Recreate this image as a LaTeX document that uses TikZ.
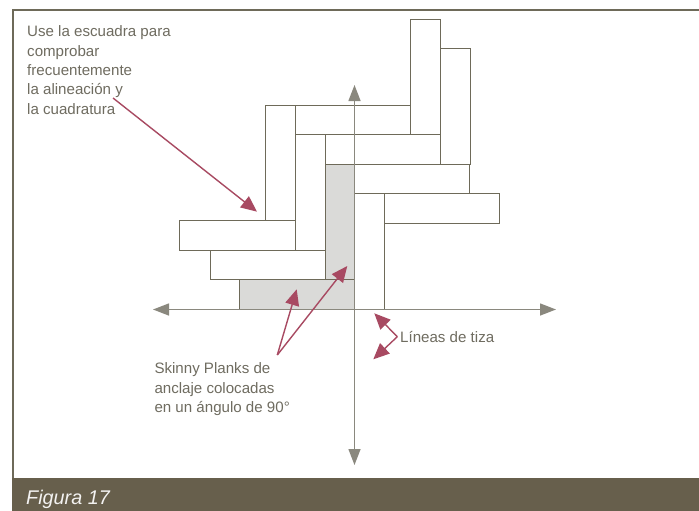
\documentclass[tikz,border=0pt]{standalone}
\usepackage{fontspec}
\setmainfont{Liberation Sans}
\usetikzlibrary{arrows.meta}
\definecolor{frameC}{HTML}{6E6A59}
\definecolor{bandC}{HTML}{675F4C}
\definecolor{axisC}{HTML}{8A887E}
\definecolor{grayC}{HTML}{DADAD8}
\definecolor{redC}{HTML}{A84A62}
\definecolor{textC}{HTML}{6F6C60}
\tikzset{
  x=1pt,y=-1pt,
  plank/.style={draw=frameC,line width=1.5pt,fill=white},
  anchorplank/.style={plank,fill=grayC},
  axisline/.style={draw=axisC,line width=1.4pt,{Triangle[length=16pt,width=12pt]}-{Triangle[length=16pt,width=12pt]}},
  callout/.style={draw=redC,line width=1.4pt,-{Triangle[length=16pt,width=14pt]}},
  label/.style={inner sep=0pt,text=textC,font=\fontsize{15.1}{19.4}\selectfont,align=left,anchor=north west},
}
\begin{document}
\begin{tikzpicture}
\useasboundingbox (0,0) rectangle (699,511);
\fill[white] (0,0) rectangle (699,511);
% frame
\draw[draw=frameC,line width=2pt] (699,10.5) -- (12.5,10.5) -- (12.5,478);
\fill[bandC] (12,477.5) rectangle (699,511);
% planks
\path[plank] (410.5,19.5) rectangle (440.5,134.5);
\path[plank] (440.5,48.5) rectangle (470.5,164.5);
\path[plank] (295.5,105.5) rectangle (410.5,134.5);
\path[plank] (265.5,105.5) rectangle (295.5,220.5);
\path[plank] (325.5,134.5) rectangle (440.5,164.5);
\path[plank] (295.5,134.5) rectangle (325.5,250.5);
\path[plank] (354.5,164.5) rectangle (469.5,193.5);
\path[plank] (384.5,193.5) rectangle (499.5,223.5);
\path[plank] (354.5,193.5) rectangle (384.5,309.5);
\path[plank] (179.5,220.5) rectangle (295.5,250.5);
\path[plank] (210.5,250.5) rectangle (325.5,279.5);
\path[anchorplank] (325.5,164.5) rectangle (354.5,279.5);
\path[anchorplank] (239.5,279.5) rectangle (354.5,309.5);
% chalk lines
\coordinate (axL) at (153,309.5);
\coordinate (axR) at (556,309.5);
\coordinate (axT) at (354.5,85);
\coordinate (axB) at (354.5,465);
\draw[axisline] (axL) -- (axR);
\draw[axisline] (axT) -- (axB);
% labels
\node[label] (use) at (27,25.5) {Use la escuadra para\\comprobar\\frecuentemente\\la alineación y\\la cuadratura};
\node[label] (skinny) at (154.3,362.8) {Skinny Planks de\\anclaje colocadas\\en un ángulo de 90°};
\node[label] (tiza) at (400,331.2) {Líneas de tiza};
\node[inner sep=0pt,anchor=base west,text=white!92!bandC,font=\fontsize{19.8}{22}\selectfont\itshape] (fig) at (26,504) {Figura 17};
% callouts
\coordinate (a1s) at (113,98);
\coordinate (a1e) at (257,211.7);
\coordinate (skv) at (277.3,355);
\coordinate (a2e) at (296.7,289.3);
\coordinate (a3e) at (347.3,266);
\coordinate (tzv) at (397.3,336.7);
\coordinate (a4e) at (374.3,313.3);
\coordinate (a5e) at (373.3,359.3);
\draw[callout] (a1s) -- (a1e);
\draw[callout] (skv) -- (a2e);
\draw[callout] (skv) -- (a3e);
\draw[callout] (tzv) -- (a4e);
\draw[callout] (tzv) -- (a5e);
\end{tikzpicture}
\end{document}
